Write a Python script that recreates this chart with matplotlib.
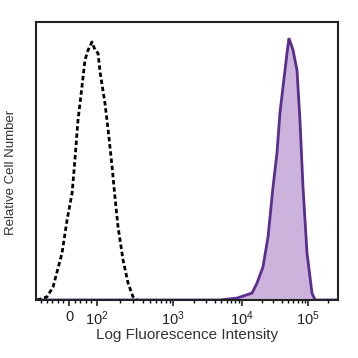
import numpy as np
import matplotlib
matplotlib.use("Agg")
import matplotlib.pyplot as plt
from matplotlib.ticker import FixedLocator

plt.rcParams['font.family'] = ['Liberation Sans', 'DejaVu Sans']
plt.rcParams['mathtext.default'] = 'regular'

# Isotype / unstained control (dashed black)
ctrl_x = [-114, -79, -57, -25, -7, 11, 21, 32, 46, 57, 68, 82, 93, 103, 110,
          127, 140, 158, 172, 189, 220, 256, 298, 336]
ctrl_y = [0, 0.011, 0.047, 0.169, 0.288, 0.385, 0.504, 0.647, 0.766, 0.863,
          0.899, 0.928, 0.899, 0.888, 0.817, 0.709, 0.612, 0.478, 0.371, 0.263,
          0.144, 0.061, 0.011, 0]

# Stained sample (filled purple)
stain_x = [-118, 4800, 8470, 14200, 16900, 20800, 24800, 29500, 33900, 37600,
           41800, 48100, 51500, 59300, 68100, 75600, 84000, 96600, 115000,
           128000, 285000]
stain_y = [0, 0, 0.007, 0.025, 0.061, 0.119, 0.227, 0.406, 0.529, 0.673, 0.766,
           0.888, 0.942, 0.899, 0.827, 0.647, 0.406, 0.169, 0.025, 0, 0]

tick_vals = [0, 1e2, 1e3, 1e4, 1e5]
tick_labels = ['0', '$10^2$', '$10^3$', '$10^4$', '$10^5$']

# display-like biexponential scale (piecewise: linear near zero, log above 100)
U_ANCH = np.array([2.0, 3.0, 4.0, 5.0, 6.0])
P_ANCH = np.array([97.0, 173.0, 242.0, 308.0, 374.0])
LIN = 0.28


def fwd(x):
    x = np.asarray(x, dtype=float)
    out = np.empty_like(x)
    low = x <= 100
    out[low] = 69 + x[low] * LIN
    xs = np.clip(x[~low], 100, None)
    out[~low] = np.interp(np.log10(xs), U_ANCH, P_ANCH, right=np.nan)
    bad = np.isnan(out)
    if bad.any():
        out[bad] = 374 + (np.log10(np.clip(x[bad], 1e6, None)) - 6) * 66
    return out


def inv(p):
    p = np.asarray(p, dtype=float)
    out = np.empty_like(p)
    low = p <= 97
    out[low] = (p[low] - 69) / LIN
    u = np.interp(p[~low], P_ANCH, U_ANCH)
    out[~low] = 10 ** u
    return out


fig = plt.figure(figsize=(3.58, 3.58), dpi=100)
ax = fig.add_axes([36 / 358, 58 / 358, 302 / 358, 278 / 358])
ax.set_xscale('function', functions=(fwd, inv))

ax.fill_between(stain_x, stain_y, 0, color='#cbb3dc', linewidth=0)
ax.plot(stain_x, stain_y, color='#5a2d8e', lw=2.0, solid_joinstyle='miter')
ax.plot(ctrl_x, ctrl_y, color='black', lw=2.0, linestyle=(0, (1.6, 1.0)))

ax.set_xlim(-118, 285000)
ax.set_ylim(0, 1)

minor = [-100, -80, -60, -40, -20, 20, 40, 60, 80]
for k in [2, 3, 4]:
    minor += [m * 10 ** k for m in range(2, 10)]
minor += [2e5]
ax.xaxis.set_major_locator(FixedLocator(tick_vals))
ax.xaxis.set_minor_locator(FixedLocator(minor))
ax.set_xticklabels(tick_labels)
ax.tick_params(axis='x', which='major', length=4, width=1.2, direction='out',
               labelsize=10.5, colors='#222222', pad=3)
ax.tick_params(axis='x', which='minor', length=2.5, width=1.0, direction='out')
ax.set_yticks([])
for s in ax.spines.values():
    s.set_linewidth(1.5)
    s.set_color('#222222')

ax.set_xlabel('Log Fluorescence Intensity', fontsize=11, color='#333333',
              labelpad=0)
ax.set_ylabel('Relative Cell Number', fontsize=9.5, color='#333333')
ax.yaxis.set_label_coords(-0.063, 0.46)

fig.savefig('out.png', dpi=100)
